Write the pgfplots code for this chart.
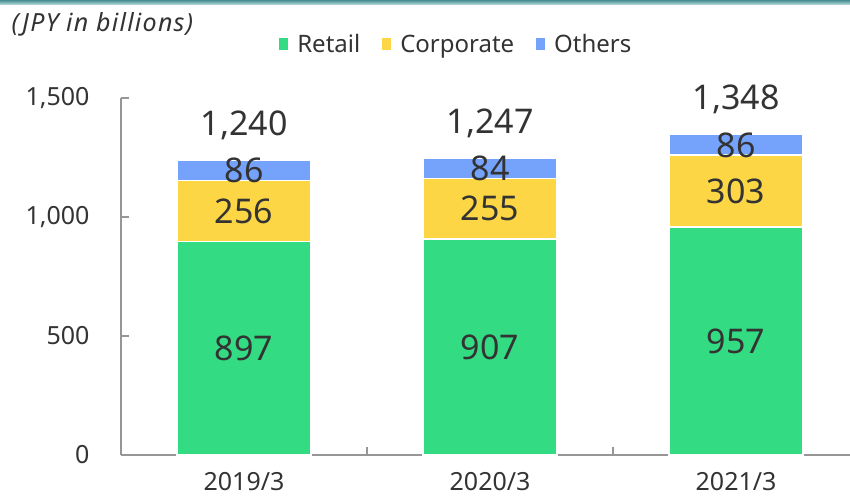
\documentclass[border=0pt]{standalone}
\usepackage{pgfplots}
\pgfplotsset{compat=1.18}
\usepackage{pgfplotstable}
\usepackage{fontspec}
\setmainfont{Noto Sans}
\definecolor{cRetail}{RGB}{51,219,130}
\definecolor{cCorp}{RGB}{252,214,68}
\definecolor{cOther}{RGB}{117,163,252}
\definecolor{txt}{RGB}{51,51,51}
\definecolor{axgray}{RGB}{150,150,150}
\pgfplotstableread{
x retail corp other
0 897 256 86
1 907 255 84
2 957 303 86
}\data
\pgfplotstableread{
x y lab
0 448.5 897
0 1025 256
0 1196 86
1 453.5 907
1 1034.5 255
1 1204 84
2 478.5 957
2 1108.5 303
2 1303 86
}\seglabels
\pgfplotstableread{
x y lab
0 1385 1,240
1 1392 1,247
2 1493 1,348
}\totlabels
\begin{document}
\begin{tikzpicture}
\begin{axis}[name=ax, scale only axis, width=729bp, height=357bp,
  xmin=-0.5, xmax=2.463, ymin=0, ymax=1500,
  ybar stacked, bar width=0.545, clip=false,
  axis x line*=bottom, axis y line*=left,
  axis line style={axgray, line width=1.5bp},
  xtick={0.5,1.5}, xticklabels={},
  extra x ticks={0,1,2}, extra x tick labels={2019/3,2020/3,2021/3},
  extra x tick style={major tick length=0pt},
  ytick={0,500,1000,1500},
  tick style={axgray, line width=1.5bp}, tick align=inside, major tick length=8bp,
  /pgf/number format/assume math mode=true,
  /pgf/number format/1000 sep={,},
  ticklabel style={font=\fontsize{25bp}{30bp}\selectfont, text=txt},
  yticklabel style={xshift=-28bp},
  xticklabel style={yshift=-14bp},
  legend image code/.code={\path[#1,draw=none] (0bp,-6bp) rectangle (9bp,6bp);},
  legend style={at={(0.46,1.151)}, anchor=center, draw=none, fill=none,
    legend columns=3, font=\fontsize{24bp}{28bp}\selectfont, text=txt,
    /tikz/every even column/.append style={column sep=20bp}},
]
\addplot[fill=cRetail, draw=white, line width=1.5bp] table[x=x,y=retail]{\data};
\addlegendentry{\hspace{7bp}Retail}
\addplot[fill=cCorp, draw=white, line width=1.5bp] table[x=x,y=corp]{\data};
\addlegendentry{\hspace{7bp}Corporate}
\addplot[fill=cOther, draw=white, line width=1.5bp] table[x=x,y=other]{\data};
\addlegendentry{\hspace{7bp}Others}
\end{axis}
\begin{axis}[at={(ax.south west)}, anchor=south west, scale only axis,
  width=729bp, height=357bp, xmin=-0.5, xmax=2.463, ymin=0, ymax=1500,
  hide axis, clip=false]
\addplot[draw=none, mark=none, nodes near coords, point meta=explicit symbolic,
  nodes near coords style={anchor=center, font=\fontsize{34bp}{40bp}\selectfont, text=txt}]
  table[x=x, y=y, meta=lab]{\seglabels};
\addplot[draw=none, mark=none, nodes near coords, point meta=explicit symbolic,
  nodes near coords style={anchor=center, font=\fontsize{34bp}{40bp}\selectfont, text=txt}]
  table[x=x, y=y, meta=lab]{\totlabels};
\end{axis}
\shade[top color={rgb,255:red,70;green,140;blue,145}, bottom color={rgb,255:red,190;green,225;blue,225}]
  ([shift={(-121bp,455bp)}]ax.south west) rectangle ++(850bp,-5bp);
\node[anchor=west, text=txt, font=\fontsize{25bp}{30bp}\selectfont\itshape\addfontfeature{LetterSpace=5}]
  at ([shift={(-113bp,431bp)}]ax.south west) {(JPY in billions)};
\pgfresetboundingbox
\path[use as bounding box] ([shift={(-121bp,-45bp)}]ax.south west) rectangle ++(850bp,500bp);
\end{tikzpicture}
\end{document}
